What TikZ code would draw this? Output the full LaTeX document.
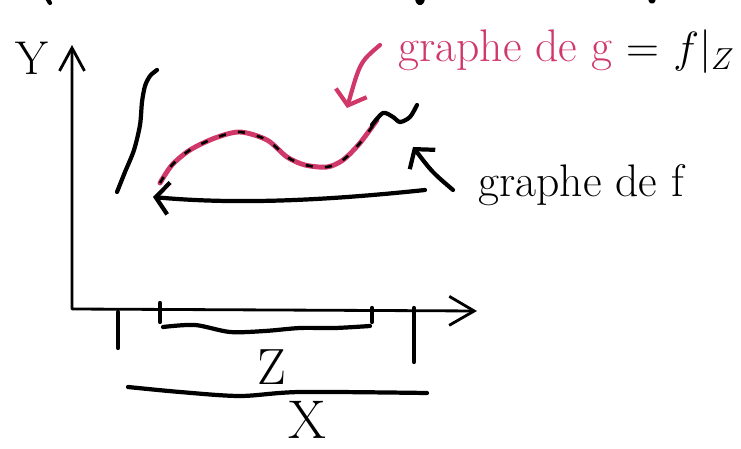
\documentclass[tikz,border=0pt]{standalone}
\usepackage{amsmath}
\usepackage{tikz}
\usetikzlibrary{arrows.meta, positioning, calc}
\usepackage{xcolor}
\definecolor{handpink}{RGB}{208,56,106}
\tikzset{
  ink/.style={line width=2.4pt, line cap=round, line join=round},
  axisline/.style={line width=1.6pt, line cap=round, line join=round},
  barb/.style={-{Straight Barb[length=2.6mm,width=6.4mm]}},
  bigbarb/.style={{Straight Barb[length=4.6mm,width=5mm]}-{Straight Barb[length=5mm,width=5.8mm]}},
  hand/.style={font=\fontsize{26}{29}\selectfont, inner sep=0pt}
}

\begin{document}
\begin{tikzpicture}[x=0.02cm,y=-0.02cm]
  \useasboundingbox (0,0) rectangle (741,449);
  % cut-off strokes along the top edge
  \draw[ink] (47,-2) -- (50,3);
  \draw[ink] (417,-2) .. controls (418,5) and (422,5) .. (423,-2);
  \draw[ink] (650,-2) .. controls (651,3) and (653,3) .. (654,-2);

  % axes
  \coordinate (O) at (72,309);
  \coordinate (ytop) at (72,45);
  \coordinate (xend) at (477,311);
  \draw[axisline, bigbarb] (ytop) -- (O) -- (xend);
  \node[font=\fontsize{27}{30}\selectfont] (ylab) at (32,58) {Y};

  % ticks for X and Z
  \draw[ink] (118,312) -- (118,348);
  \draw[ink] (160,303) -- (160,322);
  \draw[ink] (372,308) -- (372,322);
  \draw[ink] (414,308) -- (414,362);
  \draw[ink] plot[smooth] coordinates {(163,327) (195,325) (230,332) (265,331) (300,328) (335,328) (370,326)};
  \node[font=\fontsize{29}{32}\selectfont] (zlab) at (272,367) {Z};
  \draw[ink] plot[smooth] coordinates {(128,387) (180,392) (240,396) (300,392) (427,393)};
  \node[font=\fontsize{31}{34}\selectfont, inner sep=0pt] (xlab) at (307,420) {X};

  % graph of f
  \draw[ink] plot[smooth] coordinates {(157,70) (150,76) (145,86) (142,102) (140,125) (134,150) (125,172) (117,192)};
  \draw[handpink, line width=2.8pt, line cap=round] plot[smooth] coordinates {(160,183) (172,165) (190,150) (215,138) (240,132) (267,140) (287,157) (305,165) (327,167) (343,160) (360,143) (377,120)};
  \draw[line width=1.5pt, dash pattern=on 4pt off 7pt] plot[smooth] coordinates {(160,183) (172,165) (190,150) (215,138) (240,132) (267,140) (287,157) (305,165) (327,167) (343,160) (360,143) (377,120)};
  \draw[ink] plot[smooth] coordinates {(372,125) (383,113) (393,117) (400,122) (410,117) (417,105)};
  \coordinate (fright) at (425,190);
  \coordinate (fleft) at (153,197);
  \draw[ink, barb] (fright) .. controls (330,200) and (240,205) .. (fleft);

  % labels
  \node[hand, anchor=west] (flab) at (478,185) {graphe de f};
  \coordinate (ftip) at (413,147);
  \draw[ink, barb] ([xshift=-0.5cm,yshift=-0.1cm]flab.west) .. controls (432,172) .. (ftip);
  \node[hand, text=handpink, anchor=west] (glab) at (398,50) {graphe de g};
  \node[hand, anchor=east] (eqlab) at (735,52) {= $f|_Z$};
  \coordinate (gtip) at (347,108);
  \draw[ink, handpink, barb] ([xshift=-0.36cm,yshift=0.1cm]glab.west) .. controls (360,62) .. (gtip);
\end{tikzpicture}
\end{document}
